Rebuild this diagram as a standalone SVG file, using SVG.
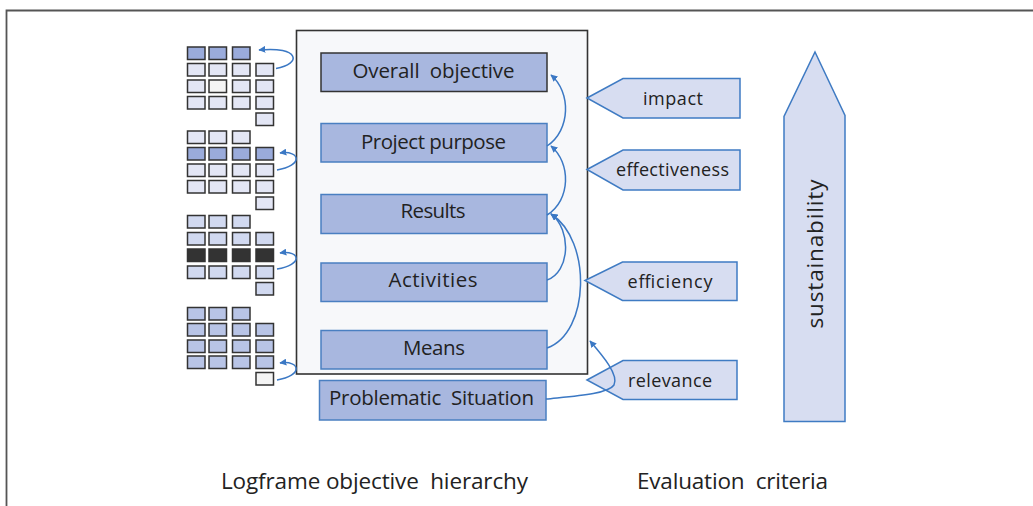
<svg xmlns="http://www.w3.org/2000/svg" width="1033" height="506" viewBox="0 0 1033 506">
<style>
text{font-family:"Open Sans","Noto Sans","Liberation Sans",sans-serif;fill:#222;}
.lbl{font-size:20.5px;text-anchor:middle;}
.crit{font-size:18px;text-anchor:middle;}
.cap{font-size:22.5px;}
.box{fill:#a8b7df;stroke:#4a7fc1;stroke-width:1.5;}
.pent{fill:#d7ddf1;stroke:#3f7bc3;stroke-width:1.5;}
.c{stroke:#333;stroke-width:1.5;}
.g1{fill:#e3e6f5;}
.hl{fill:#9aabdb;}
.g3{fill:#d1d9f0;}
.dk{fill:#333;}
.g4{fill:#b8c4e6;}
.wt{fill:#f4f4f4;}
.conn path{fill:none;stroke:#3b78c4;stroke-width:1.5;}
</style>
<defs>
<marker id="ah" viewBox="0 0 10 10" refX="9" refY="5" markerWidth="7" markerHeight="7" markerUnits="userSpaceOnUse" orient="auto">
<path d="M0,0 L10,5 L0,10 z" fill="#3b78c4"/>
</marker>
</defs>
<rect width="1033" height="506" fill="#ffffff"/>
<path d="M6.5,506 V10.5 H1033" fill="none" stroke="#555" stroke-width="1.8"/>

<g id="frame">
<rect x="296.5" y="30.5" width="291" height="343.5" fill="#f7f8fa" stroke="#333" stroke-width="1.6"/>
</g>

<g id="grid1">
<rect class="c hl" x="187.5" y="47" width="17.5" height="12.5"/>
<rect class="c hl" x="209" y="47" width="17.5" height="12.5"/>
<rect class="c hl" x="232.5" y="47" width="17.5" height="12.5"/>
<rect class="c g1" x="187.5" y="63.5" width="17.5" height="12.5"/>
<rect class="c g1" x="209" y="63.5" width="17.5" height="12.5"/>
<rect class="c g1" x="232.5" y="63.5" width="17.5" height="12.5"/>
<rect class="c g1" x="256" y="63.5" width="17.5" height="12.5"/>
<rect class="c g1" x="187.5" y="80" width="17.5" height="12.5"/>
<rect class="c wt" x="209" y="80" width="17.5" height="12.5"/>
<rect class="c g1" x="232.5" y="80" width="17.5" height="12.5"/>
<rect class="c g1" x="256" y="80" width="17.5" height="12.5"/>
<rect class="c g1" x="187.5" y="96.5" width="17.5" height="12.5"/>
<rect class="c g1" x="209" y="96.5" width="17.5" height="12.5"/>
<rect class="c g1" x="232.5" y="96.5" width="17.5" height="12.5"/>
<rect class="c g1" x="256" y="96.5" width="17.5" height="12.5"/>
<rect class="c g1" x="256" y="113" width="17.5" height="12.5"/>
</g>

<g id="grid2">
<rect class="c g1" x="187.5" y="131" width="17.5" height="12.5"/>
<rect class="c g1" x="209" y="131" width="17.5" height="12.5"/>
<rect class="c g1" x="232.5" y="131" width="17.5" height="12.5"/>
<rect class="c hl" x="187.5" y="147.5" width="17.5" height="12.5"/>
<rect class="c hl" x="209" y="147.5" width="17.5" height="12.5"/>
<rect class="c hl" x="232.5" y="147.5" width="17.5" height="12.5"/>
<rect class="c hl" x="256" y="147.5" width="17.5" height="12.5"/>
<rect class="c g1" x="187.5" y="164" width="17.5" height="12.5"/>
<rect class="c g1" x="209" y="164" width="17.5" height="12.5"/>
<rect class="c g1" x="232.5" y="164" width="17.5" height="12.5"/>
<rect class="c g1" x="256" y="164" width="17.5" height="12.5"/>
<rect class="c g1" x="187.5" y="180.5" width="17.5" height="12.5"/>
<rect class="c g1" x="209" y="180.5" width="17.5" height="12.5"/>
<rect class="c g1" x="232.5" y="180.5" width="17.5" height="12.5"/>
<rect class="c g1" x="256" y="180.5" width="17.5" height="12.5"/>
<rect class="c g1" x="256" y="197" width="17.5" height="12.5"/>
</g>

<g id="grid3">
<rect class="c g3" x="187.5" y="215.5" width="17.5" height="12.5"/>
<rect class="c g3" x="209" y="215.5" width="17.5" height="12.5"/>
<rect class="c g3" x="232.5" y="215.5" width="17.5" height="12.5"/>
<rect class="c g3" x="187.5" y="232.5" width="17.5" height="12.5"/>
<rect class="c g3" x="209" y="232.5" width="17.5" height="12.5"/>
<rect class="c g3" x="232.5" y="232.5" width="17.5" height="12.5"/>
<rect class="c g3" x="256" y="232.5" width="17.5" height="12.5"/>
<rect class="c dk" x="187.5" y="249" width="17.5" height="12.5"/>
<rect class="c dk" x="209" y="249" width="17.5" height="12.5"/>
<rect class="c dk" x="232.5" y="249" width="17.5" height="12.5"/>
<rect class="c dk" x="256" y="249" width="17.5" height="12.5"/>
<rect class="c g3" x="187.5" y="266" width="17.5" height="12.5"/>
<rect class="c g3" x="209" y="266" width="17.5" height="12.5"/>
<rect class="c g3" x="232.5" y="266" width="17.5" height="12.5"/>
<rect class="c g3" x="256" y="266" width="17.5" height="12.5"/>
<rect class="c g3" x="256" y="282.5" width="17.5" height="12.5"/>
</g>

<g id="grid4">
<rect class="c g4" x="187.5" y="307.5" width="17.5" height="12.5"/>
<rect class="c g4" x="209" y="307.5" width="17.5" height="12.5"/>
<rect class="c g4" x="232.5" y="307.5" width="17.5" height="12.5"/>
<rect class="c g4" x="187.5" y="323.5" width="17.5" height="12.5"/>
<rect class="c g4" x="209" y="323.5" width="17.5" height="12.5"/>
<rect class="c g4" x="232.5" y="323.5" width="17.5" height="12.5"/>
<rect class="c g4" x="256" y="323.5" width="17.5" height="12.5"/>
<rect class="c g4" x="187.5" y="340" width="17.5" height="12.5"/>
<rect class="c g4" x="209" y="340" width="17.5" height="12.5"/>
<rect class="c g4" x="232.5" y="340" width="17.5" height="12.5"/>
<rect class="c g4" x="256" y="340" width="17.5" height="12.5"/>
<rect class="c g4" x="187.5" y="356" width="17.5" height="12.5"/>
<rect class="c g4" x="209" y="356" width="17.5" height="12.5"/>
<rect class="c g4" x="232.5" y="356" width="17.5" height="12.5"/>
<rect class="c g4" x="256" y="356" width="17.5" height="12.5"/>
<rect class="c wt" x="256" y="372.5" width="17.5" height="12.5"/>
</g>

<g id="overall">
<rect x="321" y="53" width="226" height="38.5" fill="#a8b7df" stroke="#333" stroke-width="1.5"/>
<text class="lbl" x="433.5" y="78" textLength="162" xml:space="preserve">Overall  objective</text>
</g>
<g id="purpose">
<rect class="box" x="321" y="123.5" width="226" height="38.5"/>
<text class="lbl" x="433.5" y="148.5" textLength="145">Project purpose</text>
</g>
<g id="results">
<rect class="box" x="321" y="194.5" width="226" height="39"/>
<text class="lbl" x="433" y="218" textLength="65">Results</text>
</g>
<g id="activities">
<rect class="box" x="321" y="263" width="226" height="38.5"/>
<text class="lbl" x="433" y="286.5" textLength="89">Activities</text>
</g>
<g id="means">
<rect class="box" x="321" y="330.5" width="226" height="38.5"/>
<text class="lbl" x="434" y="354.5" textLength="62">Means</text>
</g>
<g id="problem">
<rect class="box" x="319.5" y="380.5" width="226.5" height="39.5"/>
<text class="lbl" x="431.5" y="404.5" textLength="205" xml:space="preserve">Problematic  Situation</text>
</g>

<g id="impact">
<polygon class="pent" points="587,98 623,78.5 740,78.5 740,118 623,118"/>
<text class="crit" x="673" y="104.5" textLength="60">impact</text>
</g>
<g id="effectiveness">
<polygon class="pent" points="587,169.5 623,150 740,150 740,190 623,190"/>
<text class="crit" x="672.5" y="176" textLength="113">effectiveness</text>
</g>
<g id="efficiency">
<polygon class="pent" points="585,280.5 622.5,262 737,262 737,300.5 622.5,300.5"/>
<text class="crit" x="670" y="287.5" textLength="85">efficiency</text>
</g>
<g id="relevance">
<polygon class="pent" points="587,380 623,360.5 737,360.5 737,399.5 623,399.5"/>
<text class="crit" x="670" y="387" textLength="84">relevance</text>
</g>

<g id="sustainability">
<polygon class="pent" points="815,52 845,115.5 845,421.5 784,421.5 784,116.5"/>
<text class="cap" transform="translate(823,254) rotate(-90)" text-anchor="middle" textLength="149">sustainability</text>
</g>

<g id="captions">
<text class="cap" x="221" y="489" textLength="307" xml:space="preserve">Logframe objective  hierarchy</text>
<text class="cap" x="637" y="489" textLength="191" xml:space="preserve">Evaluation  criteria</text>
</g>

<g class="conn" id="connectors">
<path d="M276,68.5 C302,64 300,46 259,50" marker-end="url(#ah)"/>
<path d="M277,170 C303,166 301,150 280,153" marker-end="url(#ah)"/>
<path d="M277,269 C303,265 301,250 280,253" marker-end="url(#ah)"/>
<path d="M277,380 C303,376 301,360 280,363" marker-end="url(#ah)"/>
<path d="M547,146 C571,130 571,92 551,75" marker-end="url(#ah)"/>
<path d="M547,215 C571,200 571,163 551,146" marker-end="url(#ah)"/>
<path d="M547,280 C570,272 572,230 551,214" marker-end="url(#ah)"/>
<path d="M547,348 C590,333 592,240 551,214" marker-end="url(#ah)"/>
<path d="M546,399 C575,396 608,394 614,385 C619,375 603,356 590,341" marker-end="url(#ah)"/>
</g>
</svg>
